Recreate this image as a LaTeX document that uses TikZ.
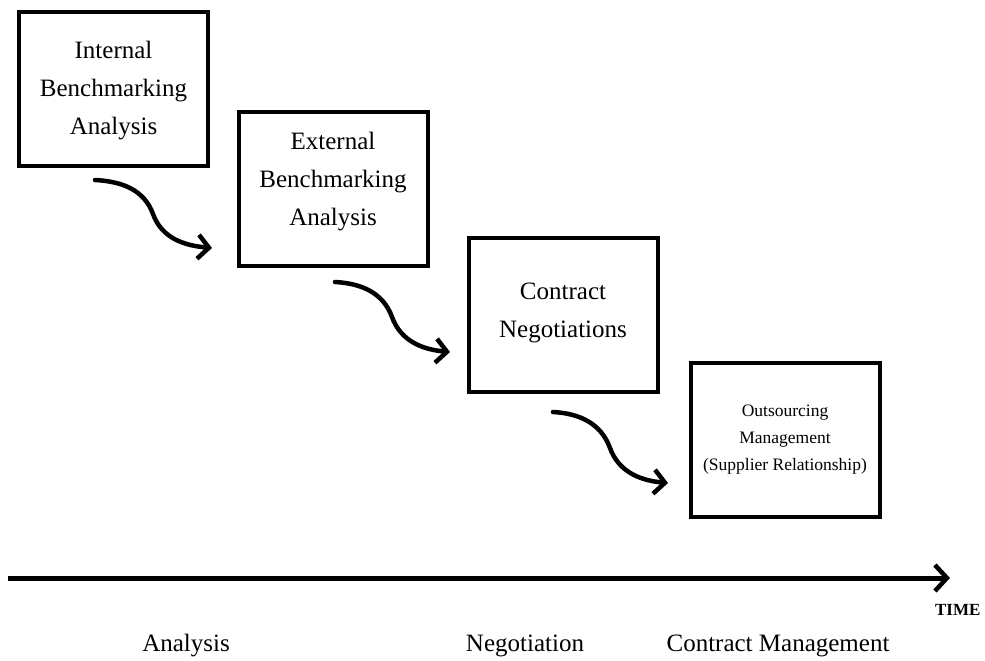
\documentclass[tikz,border=0pt]{standalone}
\usepackage{fontspec}
\setmainfont{Liberation Serif}
\usetikzlibrary{arrows.meta}
\begin{document}
\begin{tikzpicture}[x=1pt,y=-1pt,
  stage/.style={draw=black,line width=4pt,inner sep=0pt,
    minimum width=189pt,minimum height=154pt},
  caption/.style={align=center,inner sep=0pt,font=\fontsize{25}{38}\selectfont},
  swoosh/.style={line width=4.5pt,line cap=round,
    -{Straight Barb[length=11pt,width=24pt,line width=4.5pt]}},
  phase/.style={font=\fontsize{25}{30}\selectfont,anchor=base}]
\useasboundingbox (0,0) rectangle (985,661);

% process stages
\node[stage] (b1) at (113.5,89) {};
\node[stage] (b2) at (333,188.5) {};
\node[stage] (b3) at (563,315) {};
\node[stage] (b4) at (785,440) {};

\node[caption] (c1) at ([yshift=-2pt]b1.center) {Internal\\Benchmarking\\Analysis};
\node[caption] (c2) at ([yshift=7pt]b2.center) {External\\Benchmarking\\Analysis};
\node[caption] (c3) at ([yshift=2pt]b3.center) {Contract\\Negotiations};
\node[caption,font=\fontsize{17.5}{27}\selectfont] (c4) at (b4.center)
  {Outsourcing\\Management\\(Supplier Relationship)};

% connectors between stages
\coordinate (s1) at (95,180);  \coordinate (m1) at (153,214); \coordinate (e1) at (212,248);
\coordinate (s2) at (335,282); \coordinate (m2) at (392,317); \coordinate (e2) at (450,352);
\coordinate (s3) at (553,412); \coordinate (m3) at (610,448); \coordinate (e3) at (668,483);
\foreach \i in {1,2,3}
  \draw[swoosh] (s\i) to[out=-3,in=110] (m\i) to[out=-70,in=175] (e\i);

% time axis
\coordinate (t0) at (8,578);
\coordinate (t1) at (950,578);
\draw[line width=5pt,-{Straight Barb[length=12pt,width=26pt,line width=4.5pt]}] (t0) -- (t1);
\node[font=\bfseries\fontsize{17}{19}\selectfont,anchor=base east] (time) at (984,615) {TIME};

% phase labels
\node[phase] (p1) at (186,651) {Analysis};
\node[phase] (p2) at (525,651) {Negotiation};
\node[phase] (p3) at (778,651) {Contract Management};
\end{tikzpicture}
\end{document}
